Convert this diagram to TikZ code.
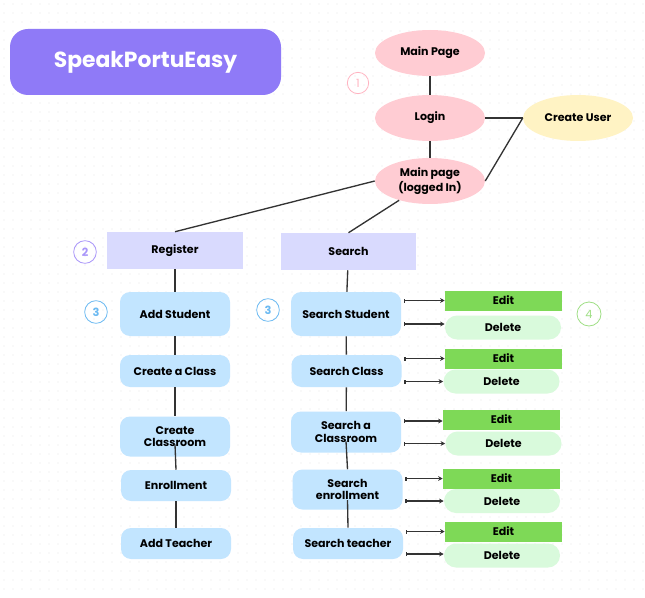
\documentclass[tikz,border=0pt]{standalone}
\usepackage{fontspec}
\setmainfont{Poppins}
\usetikzlibrary{arrows.meta,shapes.geometric}
\definecolor{titlebg}{HTML}{8F7AF7}
\definecolor{pinkE}{HTML}{FFCCD3}
\definecolor{yellowE}{HTML}{FFF3C4}
\definecolor{lav}{HTML}{D9DAFE}
\definecolor{bluebox}{HTML}{C2E5FF}
\definecolor{editg}{HTML}{7ED957}
\definecolor{delg}{HTML}{D9FADC}
\definecolor{pinkline}{HTML}{FFB3C1}
\definecolor{purpline}{HTML}{A996FA}
\definecolor{blueline}{HTML}{6CBAF2}
\definecolor{greenline}{HTML}{9FDF85}
\definecolor{conn}{HTML}{333333}
\definecolor{dotc}{HTML}{E6E6E6}
\tikzset{
  lbl/.style={font=\bfseries\fontsize{8.3}{9.5}\selectfont, text=black, align=center, inner sep=0pt},
  ell/.style={lbl, ellipse, fill=pinkE, minimum width=82.5pt, minimum height=34.5pt},
  head/.style={lbl, rectangle, fill=lav, minimum width=101.5pt, minimum height=27.75pt},
  bbox/.style={lbl, rectangle, rounded corners=7.5pt, fill=bluebox, minimum width=82.5pt},
  editbox/.style={lbl, rectangle, fill=editg, minimum width=87.75pt, minimum height=15pt},
  delbox/.style={lbl, rectangle, rounded corners=9pt, fill=delg, minimum width=87pt, minimum height=18pt},
  numc/.style={circle, draw, line width=0.6pt, minimum size=17pt, inner sep=0pt, font=\fontsize{8.5}{9}\selectfont},
  link/.style={draw=conn, line width=1pt},
  act/.style={draw=conn, line width=0.9pt, {Bar[width=3pt,line width=0.8pt]}-{Stealth[length=3.5pt,width=3.5pt]}},
}
\begin{document}
\begin{tikzpicture}[x=0.75pt,y=-0.75pt]
\useasboundingbox (0,0) rectangle (645,598);
\fill[white] (0,0) rectangle (645,598);
\foreach \gx in {4,13,...,643} {\foreach \gy in {4,13,...,596} {\fill[dotc] (\gx,\gy) circle (0.45pt);}}
% title
\node[rectangle, rounded corners=13.5pt, fill=titlebg, minimum width=203.25pt, minimum height=49.5pt, text=white, font=\bfseries\fontsize{16.4}{20}\selectfont] (title) at (145.5,62) {SpeakPortuEasy};
% ellipses
\node[ell] (mp) at (430,53) {Main Page};
\node[ell] (lg) at (430,118) {Login};
\node[ell] (ml) at (430,181) {Main page\\(logged In)};
\node[ell, fill=yellowE] (cu) at (578,118) {Create User};
\node[numc, draw=pinkline, text=pinkline, minimum size=16pt] (n1) at (358,83) {1};
% headers
\node[head] (reg) at (175,250.5) {Register};
\node[head] (srch) at (348.5,251.5) {Search};
\node[numc, draw=purpline, text=purpline] (n2) at (85,252) {\bfseries 2};
% left column
\node[bbox, minimum height=33pt] (as) at (175,314) {Add Student};
\node[bbox, minimum height=24pt] (cc1) at (175,371) {Create a Class};
\node[bbox, minimum height=30pt] (ccr) at (175,436.5) {Create\\Classroom};
\node[bbox, minimum height=23.25pt] (en) at (176,485.5) {Enrollment};
\node[bbox, minimum height=23.25pt] (at) at (176,543.5) {Add Teacher};
\node[numc, draw=blueline, text=blueline] (n3a) at (96,312) {\bfseries 3};
% right column
\node[bbox, minimum height=33pt] (ss) at (346,314) {Search Student};
\node[bbox, minimum height=24pt] (sc) at (346.5,371) {Search Class};
\node[bbox, minimum height=30.75pt] (scr) at (346,432) {Search a\\Classroom};
\node[bbox, minimum height=30pt] (se) at (347.5,489.5) {Search\\enrollment};
\node[bbox, minimum height=23.25pt] (st) at (348,543.5) {Search teacher};
\node[numc, draw=blueline, text=blueline] (n3b) at (268,310) {\bfseries 3};
% edit / delete
\node[editbox] (e1) at (503.5,300.5) {Edit};
\node[delbox] (d1) at (503,327.5) {Delete};
\node[editbox] (e2) at (503.5,358.5) {Edit};
\node[delbox] (d2) at (501.5,381.5) {Delete};
\node[editbox] (e3) at (501.5,419.5) {Edit};
\node[delbox] (d3) at (503.5,443.5) {Delete};
\node[editbox] (e4) at (501.5,478.5) {Edit};
\node[delbox] (d4) at (502,501) {Delete};
\node[editbox] (e5) at (503.5,531.5) {Edit};
\node[delbox] (d5) at (502,555.5) {Delete};
\node[numc, draw=greenline, text=greenline, minimum size=18pt] (n4) at (589,314) {4};
% connectors top
\draw[link] (mp) -- (lg);
\draw[link] (lg) -- (ml);
\draw[link] (lg.east) -- (cu.west);
\draw[link] (cu.west) -- (ml.east);
\draw[link] (ml.west) -- (reg.north);
\draw[link] (ml.212) -- (srch.north);
% left column
\draw[link] (reg) -- (as);
\draw[link] (as) -- (cc1);
\draw[link] (cc1) -- (ccr);
\draw[link] ([yshift=-6pt]ccr.center) -- (en.north);
\draw[link] (en) -- (at);
% right column
\draw[link] (srch) -- (ss);
\draw[link] (ss) -- (sc);
\draw[link] (sc) -- (scr);
\draw[link] ([yshift=-7pt]scr.center) -- (se.north);
\draw[link] ([yshift=-8pt]se.center) -- (st.north);
% actions
\draw[act] ([xshift=2pt]ss.east |- e1.west) -- (e1.west);
\draw[act] ([xshift=2pt]ss.east |- 0,324) -- (d1.west |- 0,324);
\draw[act] ([xshift=2pt]sc.east |- e2.west) -- (e2.west);
\draw[act] ([xshift=2pt]sc.east |- d2.west) -- (d2.west);
\draw[act] ([xshift=2pt]scr.east |- 0,421) -- (e3.west |- 0,421);
\draw[act] ([xshift=2pt]scr.east |- d3.west) -- (d3.west);
\draw[act] ([xshift=2pt]se.east |- e4.west) -- (e4.west);
\draw[act] ([xshift=2pt]se.east |- d4.west) -- (d4.west);
\draw[act] ([xshift=2pt]st.east |- e5.west) -- (e5.west);
\draw[act] ([xshift=2pt]st.east |- 0,554) -- (d5.west |- 0,554);
\end{tikzpicture}
\end{document}
